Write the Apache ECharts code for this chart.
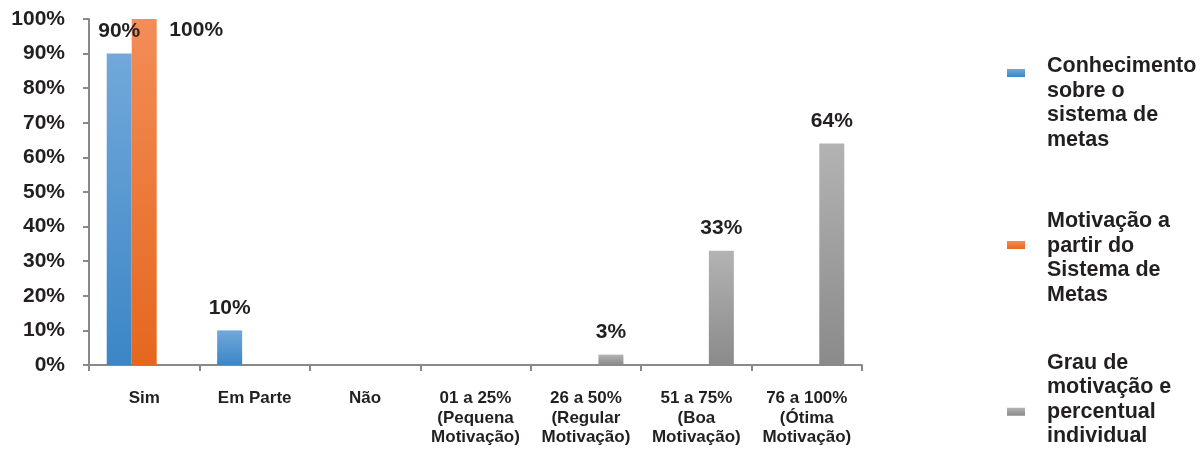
<!DOCTYPE html>
<html lang="pt">
<head>
    <meta charset="UTF-8">
    <title>Sistema de metas</title>
    <script src="https://cdn.jsdelivr.net/npm/echarts@6/dist/echarts.min.js"></script>
    <style>
        html, body { margin: 0; padding: 0; background: #fff; }
        #chart { width: 1201px; height: 453px; }
    </style>
</head>
<body>
<div id="chart"></div>
<script>
    // categorias do eixo x
    var categories = ['Sim', 'Em Parte', 'Não', '01 a 25%\n(Pequena\nMotivação)', '26 a 50%\n(Regular\nMotivação)',
        '51 a 75%\n(Boa\nMotivação)', '76 a 100%\n(Ótima\nMotivação)'];
    var seriesNames = ['Conhecimento sobre o sistema de metas', 'Motivação a partir do Sistema de Metas',
        'Grau de motivação e percentual individual'];
    var legendLabels = ['Conhecimento\nsobre o\nsistema de\nmetas', 'Motivação a\npartir do\nSistema de\nMetas',
        'Grau de\nmotivação e\npercentual\nindividual'];
    var conhecimento = [90, 10, null, null, null, null, null];
    var motivacao = [100, null, null, null, null, null, null];
    var grau = [null, null, null, null, 3, 33, 64];
    var yTicks = [0, 10, 20, 30, 40, 50, 60, 70, 80, 90, 100];

    var font = 'Liberation Sans, Arial, sans-serif';
    var txt = '#231f20';

    function grad(a, b) {
        return new echarts.graphic.LinearGradient(0, 0, 0, 1, [
            { offset: 0, color: a }, { offset: 1, color: b }
        ]);
    }
    var colors = [grad('#72a8da', '#3b86c6'), grad('#f38d57', '#e5671e'), grad('#b3b3b3', '#8a8a8a')];

    var label = {
        show: true,
        position: 'top',
        distance: 12,
        formatter: '{c}%',
        fontFamily: font,
        fontWeight: 'bold',
        fontSize: 21,
        color: txt
    };

    // o rótulo de 100% fica deslocado para a direita no original
    var motivacaoData = motivacao.map(function (v, i) {
        if (i === 0) return { value: v, label: { offset: [52, 34] } };
        return v;
    });

    // espaçador antes/depois do texto para alinhar o ícone como no original
    function legendAt(idx, top, before, after) {
        var rich = {
            t: { fontFamily: font, fontWeight: 'bold', fontSize: 21.5, lineHeight: 24.5, color: txt, padding: [0, 0, 0, 17] },
            a: { lineHeight: before, fontSize: 1, height: before },
            b: { lineHeight: after, fontSize: 1, height: after }
        };
        return {
            data: [seriesNames[idx]],
            left: 1007,
            top: top,
            padding: 0,
            icon: 'rect',
            itemWidth: 18,
            itemHeight: 8,
            selectedMode: false,
            formatter: function () {
                var lines = legendLabels[idx].split('\n').map(function (s) { return '{t|' + s + '}'; });
                if (before) lines.unshift('{a| }');
                if (after) lines.push('{b| }');
                return lines.join('\n');
            },
            textStyle: { rich: rich }
        };
    }

    var chart = echarts.init(document.getElementById('chart'));
    var option = {
        backgroundColor: '#fff',
        animation: false,
        color: colors,
        legend: [
            legendAt(0, -6, 60, 0),
            legendAt(1, 183, 26, 0),
            legendAt(2, 352, 0, 24)
        ],
        grid: { left: 89, right: 339, top: 19, bottom: 88, containLabel: false },
        xAxis: {
            type: 'category',
            data: categories,
            axisLine: { lineStyle: { color: '#898989', width: 2 } },
            axisTick: { show: true, length: 6, lineStyle: { color: '#898989', width: 2 } },
            axisLabel: {
                interval: 0,
                margin: 24,
                fontFamily: font,
                fontWeight: 'bold',
                fontSize: 17,
                lineHeight: 19.5,
                color: txt
            }
        },
        yAxis: {
            type: 'value',
            min: yTicks[0],
            max: yTicks[yTicks.length - 1],
            interval: 10,
            splitLine: { show: false },
            axisLine: { show: true, lineStyle: { color: '#898989', width: 2 } },
            axisTick: { show: true, length: 6, lineStyle: { color: '#898989', width: 2 } },
            axisLabel: {
                margin: 24,
                formatter: '{value}%',
                fontFamily: font,
                fontWeight: 'bold',
                fontSize: 21,
                color: txt
            }
        },
        series: [
            { name: seriesNames[0], type: 'bar', data: conhecimento, barWidth: 25, barGap: '0%', label: label },
            { name: seriesNames[1], type: 'bar', data: motivacaoData, barWidth: 25, barGap: '0%', label: label },
            { name: seriesNames[2], type: 'bar', data: grau, barWidth: 25, barGap: '0%', label: label }
        ]
    };
    chart.setOption(option);
</script>
</body>
</html>
